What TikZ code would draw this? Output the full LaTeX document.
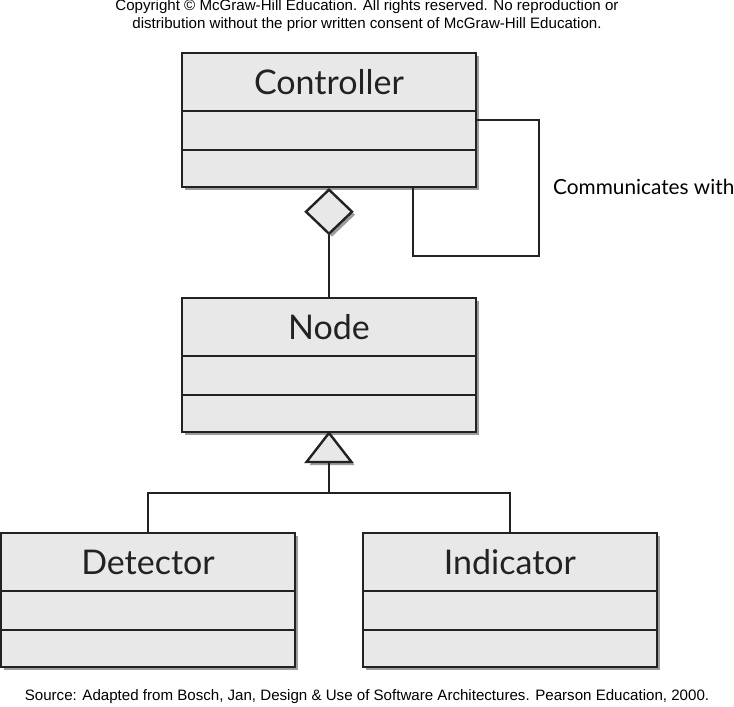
\documentclass[tikz,border=0pt]{standalone}
\usepackage{fontspec}
\setmainfont{Liberation Sans}
\newfontfamily\classfont{Lato}
\usetikzlibrary{calc}
\usetikzlibrary{positioning}
\usetikzlibrary{shapes.geometric}
\usetikzlibrary{shadows}
\definecolor{boxfill}{HTML}{E8E8E8}
\definecolor{boxline}{HTML}{222222}
\definecolor{shadowgray}{HTML}{9C9C9C}
\tikzset{>=latex}
\tikzset{
  classbox/.style = {draw=boxline, line width=2pt, fill=boxfill, minimum width=294pt,
    minimum height=134pt, inner sep=0pt,
    drop shadow={shadow xshift=3pt, shadow yshift=-3pt, fill=shadowgray, opacity=1}},
  classname/.style = {font=\classfont\fontsize{34}{38}\selectfont, inner sep=0pt, text=boxline, anchor=base},
  divider/.style = {draw=boxline, line width=1.4pt},
  link/.style = {draw=boxline, line width=1.3pt},
  headmark/.style = {draw=boxline, line width=2.4pt, fill=boxfill, inner sep=0pt,
    drop shadow={shadow xshift=3pt, shadow yshift=-3pt, fill=shadowgray, opacity=1}},
  note/.style = {font=\fontsize{15.1}{18}\selectfont, inner sep=0pt, align=center}
}

\begin{document}
\begin{tikzpicture}[x=1pt, y=-1pt]
\useasboundingbox (0,0) rectangle (734,707);
\node [note] (copyr) at (367,16) {Copyright \textcopyright{} McGraw-Hill Education. All rights reserved. No reproduction or\\distribution without the prior written consent of McGraw-Hill Education.};
\node [note] (src) at (367,697) {Source: Adapted from Bosch, Jan, Design \& Use of Software Architectures. Pearson Education, 2000.};

% classes
\node [classbox] (ctrl) at (329,120) {};
\node [classbox] (nd) at (329,365) {};
\node [classbox] (det) at (148,600) {};
\node [classbox] (ind) at (510,600) {};
\foreach \c/\t in {ctrl/Controller, nd/Node, det/Detector, ind/Indicator} {
  \node [classname] (\c name) at ($(\c.north)+(0,42)$) {\t};
  \draw [divider] ($(\c.north west)+(0,59)$) -- ($(\c.north east)+(0,59)$);
  \draw [divider] ($(\c.north west)+(0,98)$) -- ($(\c.north east)+(0,98)$);
}

% aggregation
\node [headmark, diamond, minimum width=47pt, minimum height=45pt, anchor=north] (agg) at (ctrl.south) {};
\draw [link] (agg.south) -- (nd.north);

% self association
\draw [link] (ctrl.east) -- ++(62,0) |- ($(ctrl.south)+(84,68)$) -- ($(ctrl.south)+(84,0)$);
\node [font=\classfont\fontsize{20.8}{24}\selectfont, inner sep=0pt, anchor=base west] (comm) at (553,194) {Communicates with};

% generalization
\draw [headmark] (nd.south) -- ++(22.5,29) -- ++(-45,0) -- cycle;
\coordinate (genbase) at ($(nd.south)+(0,29)$);
\draw [link] (genbase) -- ++(0,31) coordinate (bus);
\draw [link] (det.north) |- (bus) -| (ind.north);
\end{tikzpicture}
\end{document}
